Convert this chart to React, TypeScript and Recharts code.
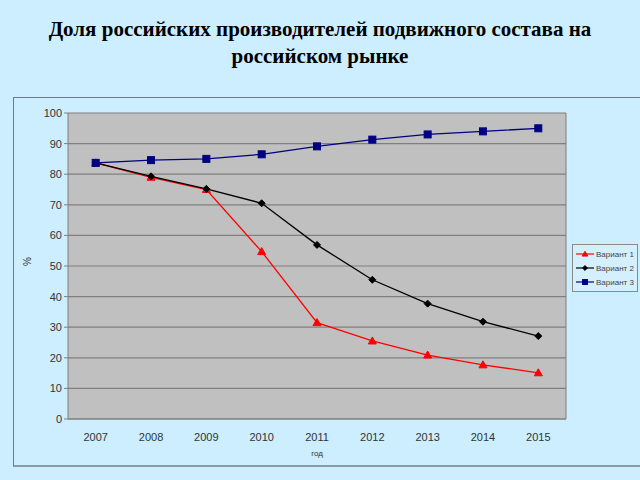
import {
  CartesianGrid,
  Label,
  Legend,
  Line,
  LineChart,
  XAxis,
  YAxis,
} from 'recharts';

const years = ['2007', '2008', '2009', '2010', '2011', '2012', '2013', '2014', '2015'];
const variant1 = [83.7, 79.0, 75.0, 54.7, 31.5, 25.5, 20.9, 17.7, 15.1];
const variant2 = [83.7, 79.3, 75.2, 70.5, 56.9, 45.5, 37.7, 31.8, 27.1];
const variant3 = [83.7, 84.6, 85.0, 86.5, 89.1, 91.3, 93.0, 94.0, 95.0];
const yTicks = [0, 10, 20, 30, 40, 50, 60, 70, 80, 90, 100];

const series = [
  { key: 'v1', name: 'Вариант 1', color: '#ff0000', shape: 'triangle' },
  { key: 'v2', name: 'Вариант 2', color: '#000000', shape: 'diamond' },
  { key: 'v3', name: 'Вариант 3', color: '#000080', shape: 'square' },
];

const data = years.map((year, i) => ({
  year,
  v1: variant1[i],
  v2: variant2[i],
  v3: variant3[i],
}));

const font = '"Liberation Sans", Arial, sans-serif';

function Marker({ cx, cy, color, shape, size = 1 }: { cx: number; cy: number; color: string; shape: string; size?: number }) {
  if (cx == null || cy == null) return null;
  const k = size;
  if (shape === 'triangle') {
    return <path d={`M${cx},${cy - 4 * k} L${cx + 4 * k},${cy + 3 * k} L${cx - 4 * k},${cy + 3 * k} Z`} fill={color} stroke={color} />;
  }
  if (shape === 'diamond') {
    return <path d={`M${cx},${cy - 3.5 * k} L${cx + 3.5 * k},${cy} L${cx},${cy + 3.5 * k} L${cx - 3.5 * k},${cy} Z`} fill={color} stroke={color} />;
  }
  return <rect x={cx - 3.5 * k} y={cy - 3.5 * k} width={7 * k} height={7 * k} fill={color} stroke={color} />;
}

function LegendBox() {
  return (
    <div
      style={{
        border: '1px solid #8a8a8a',
        background: '#d4f0ff',
        padding: '2px 2px 2px 3px',
        fontFamily: font,
        fontSize: 8,
        color: '#444',
        whiteSpace: 'nowrap',
        boxSizing: 'border-box',
        width: 66,
        overflow: 'hidden',
      }}
    >
      {series.map((s) => (
        <div key={s.key} style={{ display: 'flex', alignItems: 'center', height: 14 }}>
          <svg width={18} height={10} style={{ marginRight: 2, flexShrink: 0 }}>
            <line x1={0} y1={5} x2={18} y2={5} stroke={s.color} strokeWidth={1.2} />
            <Marker cx={9} cy={5} color={s.color} shape={s.shape} size={0.7} />
          </svg>
          <span>{s.name}</span>
        </div>
      ))}
    </div>
  );
}

export default function App() {
  return (
    <div
      style={{
        position: 'fixed',
        left: 0,
        top: 0,
        width: 640,
        height: 480,
        background: '#cceeff',
        overflow: 'hidden',
      }}
    >
      <div
        style={{
          position: 'absolute',
          top: 16,
          left: 0,
          width: 640,
          textAlign: 'center',
          fontFamily: '"Liberation Serif", "Times New Roman", serif',
          fontWeight: 'bold',
          fontSize: 21,
          lineHeight: '27px',
          color: '#000',
        }}
      >
        Доля российских производителей подвижного состава на
        <br />
        российском рынке
      </div>

      <div
        style={{
          position: 'absolute',
          left: 13,
          top: 97,
          width: 627,
          height: 370,
          borderTop: '1px solid #6b7b88',
          borderLeft: '1px solid #6b7b88',
          borderBottom: '2px solid #8a9aa8',
          boxSizing: 'border-box',
        }}
      />

      <div style={{ position: 'absolute', left: 13, top: 97 }}>
        <LineChart width={627} height={370} data={data} margin={{ top: 16, right: 60, bottom: 0, left: 0 }}>
          <CartesianGrid vertical={false} stroke="#7f7f7f" fill="#c0c0c0" strokeWidth={1.2} />
          <XAxis
            dataKey="year"
            axisLine={{ stroke: '#7f7f7f' }}
            tickLine={false}
            height={48}
            padding={{ left: 27.7, right: 27.7 }}
            tick={{ fontFamily: font, fontSize: 11, fill: '#333' }}
            dy={6}
          >
            <Label value="год" position="insideBottom" offset={11} style={{ fontFamily: font, fontSize: 8, fill: '#333' }} />
          </XAxis>
          <YAxis
            domain={[0, 100]}
            ticks={yTicks}
            width={55}
            axisLine={{ stroke: '#7f7f7f' }}
            tickLine={{ stroke: '#7f7f7f' }}
            tickSize={4}
            tick={{ fontFamily: font, fontSize: 11, fill: '#333' }}
          >
            <Label value="%" angle={-90} position="insideLeft" offset={14} style={{ fontFamily: font, fontSize: 10, fill: '#333' }} />
          </YAxis>
          <YAxis
            yAxisId="edge"
            orientation="right"
            domain={[0, 100]}
            width={14}
            tick={false}
            tickLine={false}
            axisLine={{ stroke: '#7f7f7f' }}
          />
          <Legend
            layout="horizontal"
            verticalAlign="middle"
            align="center"
            content={() => <LegendBox />}
            wrapperStyle={{ left: 559, top: 147, width: 66 }}
          />
          {series.map((s) => (
            <Line
              key={s.key}
              dataKey={s.key}
              name={s.name}
              stroke={s.color}
              strokeWidth={1.3}
              isAnimationActive={false}
              dot={(p: any) => <Marker key={`${s.key}-${p.index}`} cx={p.cx} cy={p.cy} color={s.color} shape={s.shape} />}
              activeDot={false}
            />
          ))}
        </LineChart>
      </div>
    </div>
  );
}
